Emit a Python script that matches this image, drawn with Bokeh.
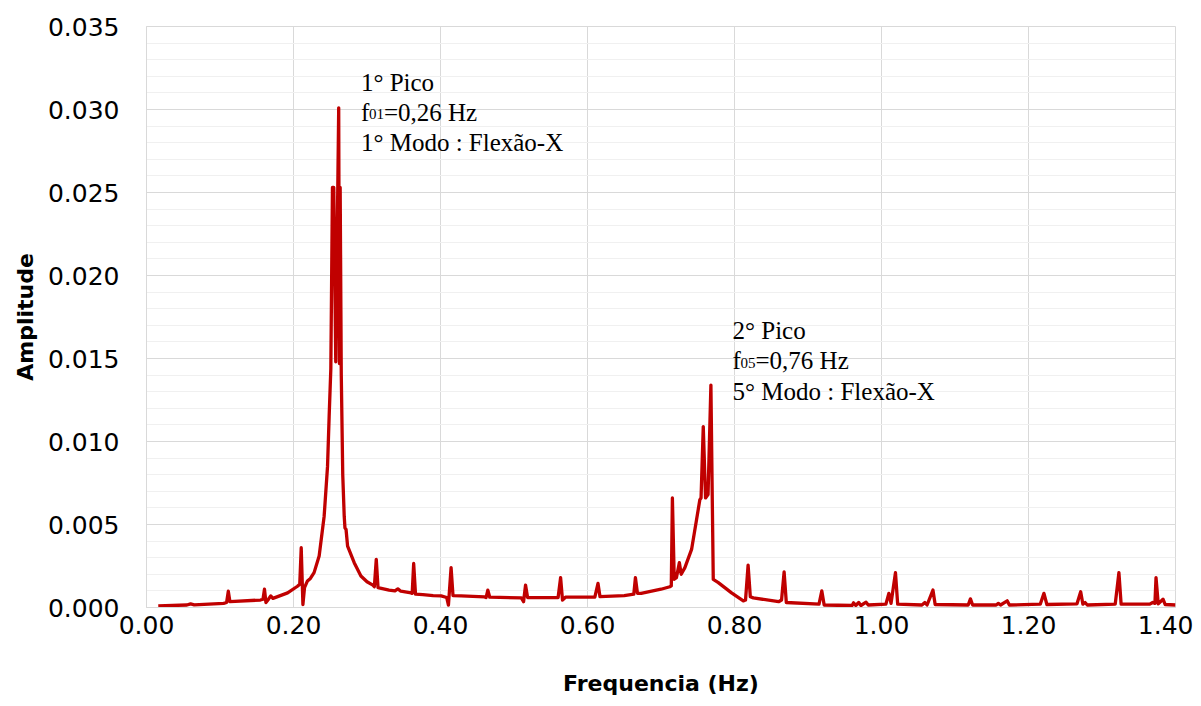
from bokeh.plotting import figure
from bokeh.models import Range1d, Label, NumeralTickFormatter, FixedTicker
from bokeh.embed import file_html
from bokeh.resources import INLINE

freq = [0.016, 0.055, 0.060, 0.065, 0.105, 0.109, 0.1113, 0.1135, 0.155, 0.1585,
        0.1605, 0.1625, 0.1660, 0.1690, 0.1720, 0.1920, 0.2054, 0.2085, 0.2105, 0.2128,
        0.2150, 0.2190, 0.2230, 0.2280, 0.2349, 0.2417, 0.2463, 0.2485, 0.2508, 0.2530,
        0.2548, 0.2575, 0.2615, 0.2625, 0.2635, 0.2650, 0.2670, 0.2690, 0.2700, 0.2715,
        0.2736, 0.2826, 0.2917, 0.3000, 0.3080, 0.3100, 0.3126, 0.3150, 0.3300, 0.3380,
        0.3420, 0.3460, 0.3600, 0.3615, 0.3635, 0.3660, 0.3760, 0.3900, 0.4008, 0.4085,
        0.4108, 0.4144, 0.4170, 0.4280, 0.4600, 0.4620, 0.4644, 0.4670, 0.5100, 0.5130,
        0.5157, 0.5185, 0.5600, 0.5634, 0.5660, 0.5700, 0.6100, 0.6143, 0.6170, 0.6500,
        0.6630, 0.6652, 0.6680, 0.6730, 0.7000, 0.7120, 0.7140, 0.7155, 0.7180, 0.7210,
        0.7250, 0.7275, 0.7325, 0.7416, 0.7484, 0.7529, 0.7545, 0.7575, 0.7606, 0.7640,
        0.7679, 0.7711, 0.7780, 0.7960, 0.8120, 0.8150, 0.8185, 0.8215, 0.8256, 0.8600,
        0.8640, 0.8675, 0.8705, 0.9150, 0.9188, 0.9220, 0.9600, 0.9620, 0.9650, 0.9690,
        0.9720, 0.9790, 0.9820, 1.0060, 1.0100, 1.0130, 1.0190, 1.0220, 1.0550, 1.0590,
        1.0620, 1.0700, 1.0730, 1.1180, 1.1210, 1.1240, 1.1560, 1.1590, 1.1620, 1.1710,
        1.1740, 1.2160, 1.2210, 1.2250, 1.2660, 1.2710, 1.2740, 1.2770, 1.2800, 1.3180,
        1.3230, 1.3260, 1.3650, 1.3690, 1.3720, 1.3735, 1.3765, 1.3830, 1.3860, 1.4000]

amp = [0.00010, 0.00015, 0.00022, 0.00016, 0.00025, 0.00030, 0.00098, 0.00035, 0.00045, 0.00050,
       0.00110, 0.00030, 0.00050, 0.00070, 0.00055, 0.00088, 0.00128, 0.00140, 0.00360, 0.00018,
       0.00120, 0.00160, 0.00175, 0.00210, 0.00310, 0.00550, 0.00850, 0.01150, 0.01440, 0.02530,
       0.02530, 0.01480, 0.03010, 0.01470, 0.02530, 0.01400, 0.00800, 0.00550, 0.00480, 0.00470,
       0.00370, 0.00270, 0.00190, 0.00155, 0.00135, 0.00125, 0.00290, 0.00120, 0.00105, 0.00100,
       0.00112, 0.00098, 0.00088, 0.00085, 0.00265, 0.00080, 0.00078, 0.00072, 0.00070, 0.00060,
       0.00014, 0.00240, 0.00072, 0.00070, 0.00064, 0.00060, 0.00105, 0.00062, 0.00058, 0.00035,
       0.00135, 0.00060, 0.00060, 0.00180, 0.00045, 0.00062, 0.00063, 0.00145, 0.00065, 0.00072,
       0.00080, 0.00180, 0.00085, 0.00085, 0.00110, 0.00125, 0.00130, 0.00660, 0.00170, 0.00180,
       0.00270, 0.00200, 0.00240, 0.00350, 0.00530, 0.00650, 0.00660, 0.01090, 0.00660, 0.00680,
       0.01340, 0.00169, 0.00150, 0.00088, 0.00040, 0.00045, 0.00255, 0.00065, 0.00058, 0.00035,
       0.00045, 0.00215, 0.00030, 0.00020, 0.00100, 0.00015, 0.00012, 0.00028, 0.00012, 0.00030,
       0.00012, 0.00032, 0.00015, 0.00020, 0.00085, 0.00025, 0.00210, 0.00020, 0.00015, 0.00030,
       0.00015, 0.00105, 0.00018, 0.00015, 0.00052, 0.00015, 0.00015, 0.00025, 0.00015, 0.00040,
       0.00015, 0.00020, 0.00085, 0.00018, 0.00022, 0.00095, 0.00020, 0.00030, 0.00015, 0.00020,
       0.00210, 0.00020, 0.00020, 0.00030, 0.00025, 0.00180, 0.00022, 0.00050, 0.00018, 0.00015]

x_ticks = [0.0, 0.2, 0.4, 0.6, 0.8, 1.0, 1.2, 1.4]
y_ticks = [0.0, 0.005, 0.010, 0.015, 0.020, 0.025, 0.030, 0.035]
y_minor = [i * 0.001 for i in range(36)]

p = figure(width=1193, height=698, output_backend="svg", toolbar_location=None,
           x_range=Range1d(0, 1.4), y_range=Range1d(0, 0.035),
           min_border_left=146, min_border_right=18, min_border_top=26, min_border_bottom=90)

p.line(freq, amp, line_color="#c00000", line_width=3.3, line_join="round")

p.xaxis.ticker = FixedTicker(ticks=x_ticks)
p.yaxis.ticker = FixedTicker(ticks=y_ticks, minor_ticks=y_minor)
p.xaxis.formatter = NumeralTickFormatter(format="0.00")
p.yaxis.formatter = NumeralTickFormatter(format="0.000")

for ax in (p.xaxis, p.yaxis):
    ax.axis_line_color = "#d9d9d9"
    ax.major_tick_line_color = None
    ax.minor_tick_line_color = None
    ax.major_label_text_font = "DejaVu Sans"
    ax.major_label_text_font_size = "25px"
    ax.major_label_text_color = "#000000"
    ax.axis_label_text_font = "DejaVu Sans"
    ax.axis_label_text_font_style = "bold"
    ax.axis_label_text_font_size = "22px"
    ax.axis_label_text_color = "#000000"

p.xaxis.axis_label = "Frequencia (Hz)"
p.yaxis.axis_label = "Amplitude"
p.yaxis.major_label_standoff = 21
p.xaxis.major_label_standoff = 2
p.yaxis.axis_label_standoff = 7
p.xaxis.axis_label_standoff = 34

p.xgrid.grid_line_color = "#d9d9d9"
p.ygrid.grid_line_color = "#d9d9d9"
p.ygrid.minor_grid_line_color = "#f0f0f0"
p.outline_line_color = "#d9d9d9"
p.background_fill_color = "white"
p.border_fill_color = "white"

serif = "Liberation Serif"
fs = "25px"
sub_fs = "15px"


def add_text(x, y, txt, size=fs, xoff=0, yoff=0):
    p.add_layout(Label(x=x, y=y, text=txt, text_font=serif, text_font_size=size,
                       text_color="#000000", text_baseline="alphabetic",
                       x_offset=xoff, y_offset=yoff))


# Peak 1 annotation
a1x = 0.2917
add_text(a1x, 0.03163, "1° Pico")
add_text(a1x, 0.02983, "f")
add_text(a1x, 0.02983, "01", size=sub_fs, xoff=8, yoff=-2)
add_text(a1x, 0.02983, "=0,26 Hz", xoff=23)
add_text(a1x, 0.02802, "1° Modo : Flexão-X")

# Peak 2 annotation
a2x = 0.7973
add_text(a2x, 0.016657, "2° Pico")
add_text(a2x, 0.014853, "f")
add_text(a2x, 0.014853, "05", size=sub_fs, xoff=8, yoff=-2)
add_text(a2x, 0.014853, "=0,76 Hz", xoff=23)
add_text(a2x, 0.012988, "5° Modo : Flexão-X")

open("out.html", "w").write(file_html(p, INLINE))
